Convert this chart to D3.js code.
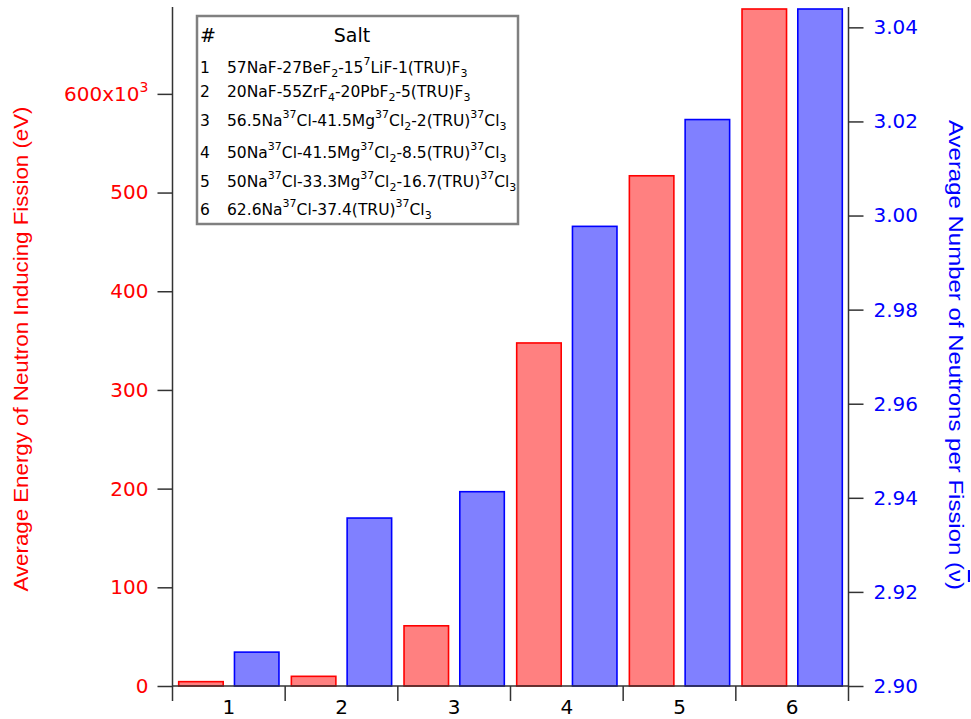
<!DOCTYPE html>
<html><head><meta charset="utf-8">
<script src="https://cdn.jsdelivr.net/npm/d3@7"></script>
<style>body{margin:0;background:#fff}svg{display:block}</style>
</head><body>
<svg id="c" width="971" height="719"></svg>
<script>
// ---- data ----
const categories = ["1","2","3","4","5","6"];
const energyK = [4.4, 9.8, 61, 347.6, 517, 760];          // x10^3 eV (left axis)
const nuBar   = [2.9072, 2.9357, 2.9413, 2.9977, 3.0204, 3.055]; // right axis
const leftTicks  = [0,100,200,300,400,500,600];
const rightTicks = [2.90,2.92,2.94,2.96,2.98,3.00,3.02,3.04];
const legendIds = ["1","2","3","4","5","6"];
const legendSalts = [
  "57NaF-27BeF_{2}-15^{7}LiF-1(TRU)F_{3}",
  "20NaF-55ZrF_{4}-20PbF_{2}-5(TRU)F_{3}",
  "56.5Na^{37}Cl-41.5Mg^{37}Cl_{2}-2(TRU)^{37}Cl_{3}",
  "50Na^{37}Cl-41.5Mg^{37}Cl_{2}-8.5(TRU)^{37}Cl_{3}",
  "50Na^{37}Cl-33.3Mg^{37}Cl_{2}-16.7(TRU)^{37}Cl_{3}",
  "62.6Na^{37}Cl-37.4(TRU)^{37}Cl_{3}"
];

// ---- layout ----
const X0 = 172.5, X1 = 848.5, Y0 = 686, Y1 = 9;
const svg = d3.select("#c");
const RED = "#ff0000", BLUE = "#0000ff", AX = "#333";

const x = d3.scaleBand().domain(categories).range([X0, X1]).padding(0);
const yL = d3.scaleLinear().domain([0, 686]).range([Y0, Y1]).clamp(true);
const yR = d3.scaleLinear().domain([2.90, 3.0439]).range([Y0, Y1]).clamp(true);
const bw = x.bandwidth();

// bars
svg.append("g").selectAll("rect").data(categories).join("rect")
  .attr("x", d => x(d) + 0.055*bw)
  .attr("width", 0.395*bw)
  .attr("y", (d,i) => yL(energyK[i]))
  .attr("height", (d,i) => Y0 - yL(energyK[i]))
  .attr("fill", "#ff8080").attr("stroke", RED).attr("stroke-width", 1.6);
svg.append("g").selectAll("rect").data(categories).join("rect")
  .attr("x", d => x(d) + 0.55*bw)
  .attr("width", 0.395*bw)
  .attr("y", (d,i) => yR(nuBar[i]))
  .attr("height", (d,i) => Y0 - yR(nuBar[i]))
  .attr("fill", "#8080ff").attr("stroke", BLUE).attr("stroke-width", 1.6);

// left axis
const gL = svg.append("g").attr("transform", `translate(${X0},0)`)
  .call(d3.axisLeft(yL).tickValues(leftTicks).tickSize(15).tickPadding(9)
    .tickFormat(d => d));
gL.select(".domain").attr("d", `M0,${Y1-2}V${Y0}`);
gL.selectAll("line").attr("stroke", AX).attr("stroke-width", 1.5);
gL.select(".domain").attr("stroke", AX).attr("stroke-width", 1.5);
gL.selectAll("text").attr("fill", RED).attr("font-family", "DejaVu Sans").attr("font-size", 20);
gL.selectAll(".tick").filter(d => d === 600).select("text").text(null)
  .call(t => { t.append("tspan").text("600x10"); t.append("tspan").attr("dy", -9).attr("font-size", 14).text("3"); });

// right axis
const gR = svg.append("g").attr("transform", `translate(${X1},0)`)
  .call(d3.axisRight(yR).tickValues(rightTicks).tickSize(15).tickPadding(10)
    .tickFormat(d3.format(".2f")));
gR.select(".domain").attr("d", `M0,${Y1-2}V${Y0}`).attr("stroke", AX).attr("stroke-width", 1.5);
gR.selectAll("line").attr("stroke", AX).attr("stroke-width", 1.5);
gR.selectAll("text").attr("fill", BLUE).attr("font-family", "DejaVu Sans").attr("font-size", 20);

// bottom axis
const gB = svg.append("g").attr("transform", `translate(0,${Y0})`);
gB.append("line").attr("x1", X0).attr("x2", X1).attr("stroke", AX).attr("stroke-width", 1.5);
gB.selectAll("line.t").data(d3.range(categories.length+1)).join("line").attr("class","t")
  .attr("x1", i => X0 + i*bw).attr("x2", i => X0 + i*bw).attr("y1", 0).attr("y2", 15)
  .attr("stroke", AX).attr("stroke-width", 1.5);
gB.selectAll("text").data(categories).join("text")
  .attr("x", d => x(d) + bw/2).attr("y", 28).attr("text-anchor", "middle")
  .attr("font-family", "DejaVu Sans").attr("font-size", 20).attr("fill", "#000").text(d => d);

// axis titles
svg.append("text").attr("transform", "translate(28,349) rotate(-90)")
  .attr("text-anchor", "middle").attr("fill", RED)
  .attr("font-family", "Liberation Sans, Arial").attr("font-size", 21)
  .attr("textLength", 485).attr("lengthAdjust", "spacingAndGlyphs")
  .text("Average Energy of Neutron Inducing Fission (eV)");
const rt = svg.append("text").attr("transform", "translate(949,355) rotate(90)")
  .attr("text-anchor", "middle").attr("fill", BLUE)
  .attr("font-family", "Liberation Sans, Arial").attr("font-size", 21)
  .attr("textLength", 470).attr("lengthAdjust", "spacingAndGlyphs");
rt.append("tspan").text("Average Number of Neutrons per Fission (");
rt.append("tspan").style("text-decoration", "overline").text("\u03BD");
rt.append("tspan").text(")");

// legend box
const lg = svg.append("g");
lg.append("rect").attr("x", 197).attr("y", 16).attr("width", 321).attr("height", 208)
  .attr("fill", "#fff").attr("stroke", "#808080").attr("stroke-width", 2.5);
const LF = "DejaVu Sans";
lg.append("text").attr("x", 200).attr("y", 42).attr("font-family", LF).attr("font-size", 19).text("#");
lg.append("text").attr("x", 352).attr("y", 42).attr("text-anchor","middle").attr("font-family", LF).attr("font-size", 19).text("Salt");
const rowBase = [73, 97, 126, 158, 187, 215];
legendIds.forEach((id, i) => {
  lg.append("text").attr("x", 200).attr("y", rowBase[i]).attr("font-family", LF).attr("font-size", 15.5).text(id);
  const t = lg.append("text").attr("x", 227).attr("y", rowBase[i]).attr("font-family", LF).attr("font-size", 15.5);
  const parts = legendSalts[i].split(/(\^\{[^}]*\}|_\{[^}]*\})/).filter(s => s.length);
  let shift = 0;
  parts.forEach(p => {
    let target = 0, txt = p, small = false;
    if (p.startsWith("^{")) { target = -8; txt = p.slice(2,-1); small = true; }
    else if (p.startsWith("_{")) { target = 4; txt = p.slice(2,-1); small = true; }
    t.append("tspan").attr("dy", target - shift).attr("font-size", small ? 11 : 15.5).text(txt);
    shift = target;
  });
});
</script>
</body></html>
